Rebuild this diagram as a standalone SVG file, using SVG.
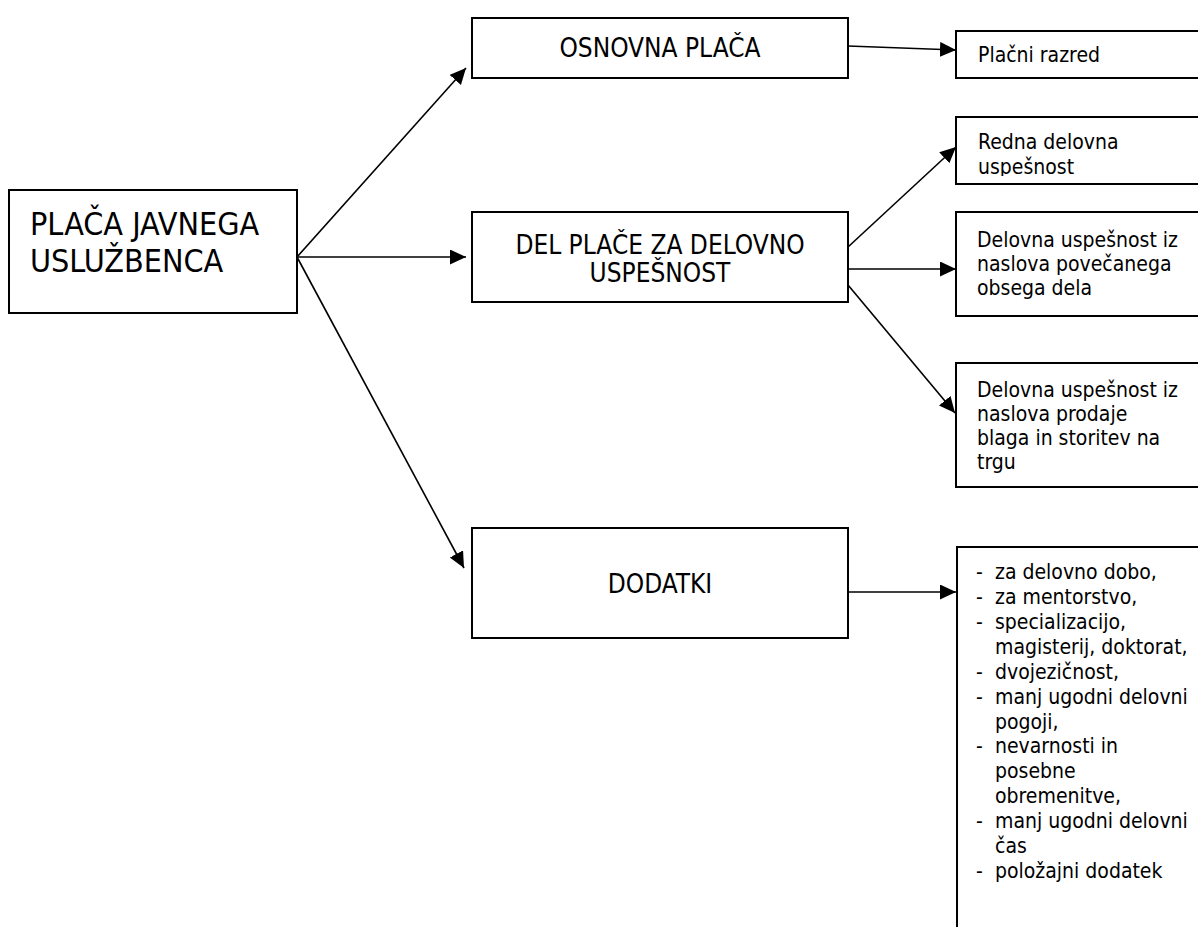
<svg xmlns="http://www.w3.org/2000/svg" width="1198" height="927" viewBox="0 0 1198 927">
<style>
.box{fill:#fff;stroke:#000;stroke-width:2}
.t{font-family:"DejaVu Sans Condensed","DejaVu Sans",sans-serif;font-stretch:condensed;fill:#000}
.big{font-size:32px}
.mid{font-size:26px;text-anchor:middle}
.sm{font-size:21px}
.c{fill:none;stroke:#000;stroke-width:1.6}
</style>
<defs>
<marker id="arr" markerUnits="userSpaceOnUse" markerWidth="17" markerHeight="16" refX="16" refY="7.5" orient="auto">
<path d="M0,0 L16,7.5 L0,15 z" fill="#000"/>
</marker>
<clipPath id="clipRedna"><rect x="956" y="117" width="250" height="59"/></clipPath>
</defs>
<rect width="1198" height="927" fill="#fff"/>
<g id="connectors">
<line class="c" x1="297" y1="257" x2="466" y2="68" marker-end="url(#arr)"/>
<line class="c" x1="297" y1="257" x2="466" y2="257" marker-end="url(#arr)"/>
<line class="c" x1="297" y1="257" x2="464" y2="568" marker-end="url(#arr)"/>
<line class="c" x1="848" y1="46" x2="956" y2="50" marker-end="url(#arr)"/>
<line class="c" x1="848" y1="247" x2="956" y2="147" marker-end="url(#arr)"/>
<line class="c" x1="848" y1="269" x2="956" y2="269" marker-end="url(#arr)"/>
<line class="c" x1="848" y1="285" x2="955" y2="413" marker-end="url(#arr)"/>
<line class="c" x1="848" y1="592" x2="956" y2="592" marker-end="url(#arr)"/>
</g>
<g id="placa">
<rect class="box" x="9" y="190" width="288" height="123"/>
<text class="t big" x="30" y="235">PLAČA JAVNEGA</text>
<text class="t big" x="30" y="272">USLUŽBENCA</text>
</g>
<g id="osnovna">
<rect class="box" x="472" y="18" width="376" height="60"/>
<text class="t mid" x="660" y="57">OSNOVNA PLAČA</text>
</g>
<g id="delplace">
<rect class="box" x="472" y="212" width="376" height="90"/>
<text class="t mid" x="660" y="254">DEL PLAČE ZA DELOVNO</text>
<text class="t mid" x="660" y="282">USPEŠNOST</text>
</g>
<g id="dodatki">
<rect class="box" x="472" y="528" width="376" height="110"/>
<text class="t mid" x="660" y="593">DODATKI</text>
</g>
<g id="placni">
<rect class="box" x="956" y="31" width="260" height="47"/>
<text class="t sm" x="978" y="62">Plačni razred</text>
</g>
<g id="redna">
<rect class="box" x="956" y="117" width="260" height="67"/>
<g clip-path="url(#clipRedna)">
<text class="t sm" x="978" y="149">Redna delovna</text>
<text class="t sm" x="978" y="174">uspešnost</text>
</g>
</g>
<g id="povecanega">
<rect class="box" x="956" y="212" width="260" height="104"/>
<text class="t sm" x="977" y="247">Delovna uspešnost iz</text>
<text class="t sm" x="977" y="271">naslova povečanega</text>
<text class="t sm" x="977" y="295">obsega dela</text>
</g>
<g id="prodaje">
<rect class="box" x="956" y="363" width="260" height="124"/>
<text class="t sm" x="977" y="397">Delovna uspešnost iz</text>
<text class="t sm" x="977" y="421">naslova prodaje</text>
<text class="t sm" x="977" y="445">blaga in storitev na</text>
<text class="t sm" x="977" y="469">trgu</text>
</g>
<g id="seznam">
<rect class="box" x="957" y="547" width="260" height="400"/>
<g class="t sm">
<text x="976" y="579">-</text><text x="995" y="579">za delovno dobo,</text>
<text x="976" y="604">-</text><text x="995" y="604">za mentorstvo,</text>
<text x="976" y="629">-</text><text x="995" y="629">specializacijo,</text>
<text x="995" y="654">magisterij, doktorat,</text>
<text x="976" y="678.5">-</text><text x="995" y="678.5">dvojezičnost,</text>
<text x="976" y="703.5">-</text><text x="995" y="703.5">manj ugodni delovni</text>
<text x="995" y="728.5">pogoji,</text>
<text x="976" y="753">-</text><text x="995" y="753">nevarnosti in</text>
<text x="995" y="778">posebne</text>
<text x="995" y="803">obremenitve,</text>
<text x="976" y="828">-</text><text x="995" y="828">manj ugodni delovni</text>
<text x="995" y="853">čas</text>
<text x="976" y="878">-</text><text x="995" y="878">položajni dodatek</text>
</g>
</g>
</svg>
